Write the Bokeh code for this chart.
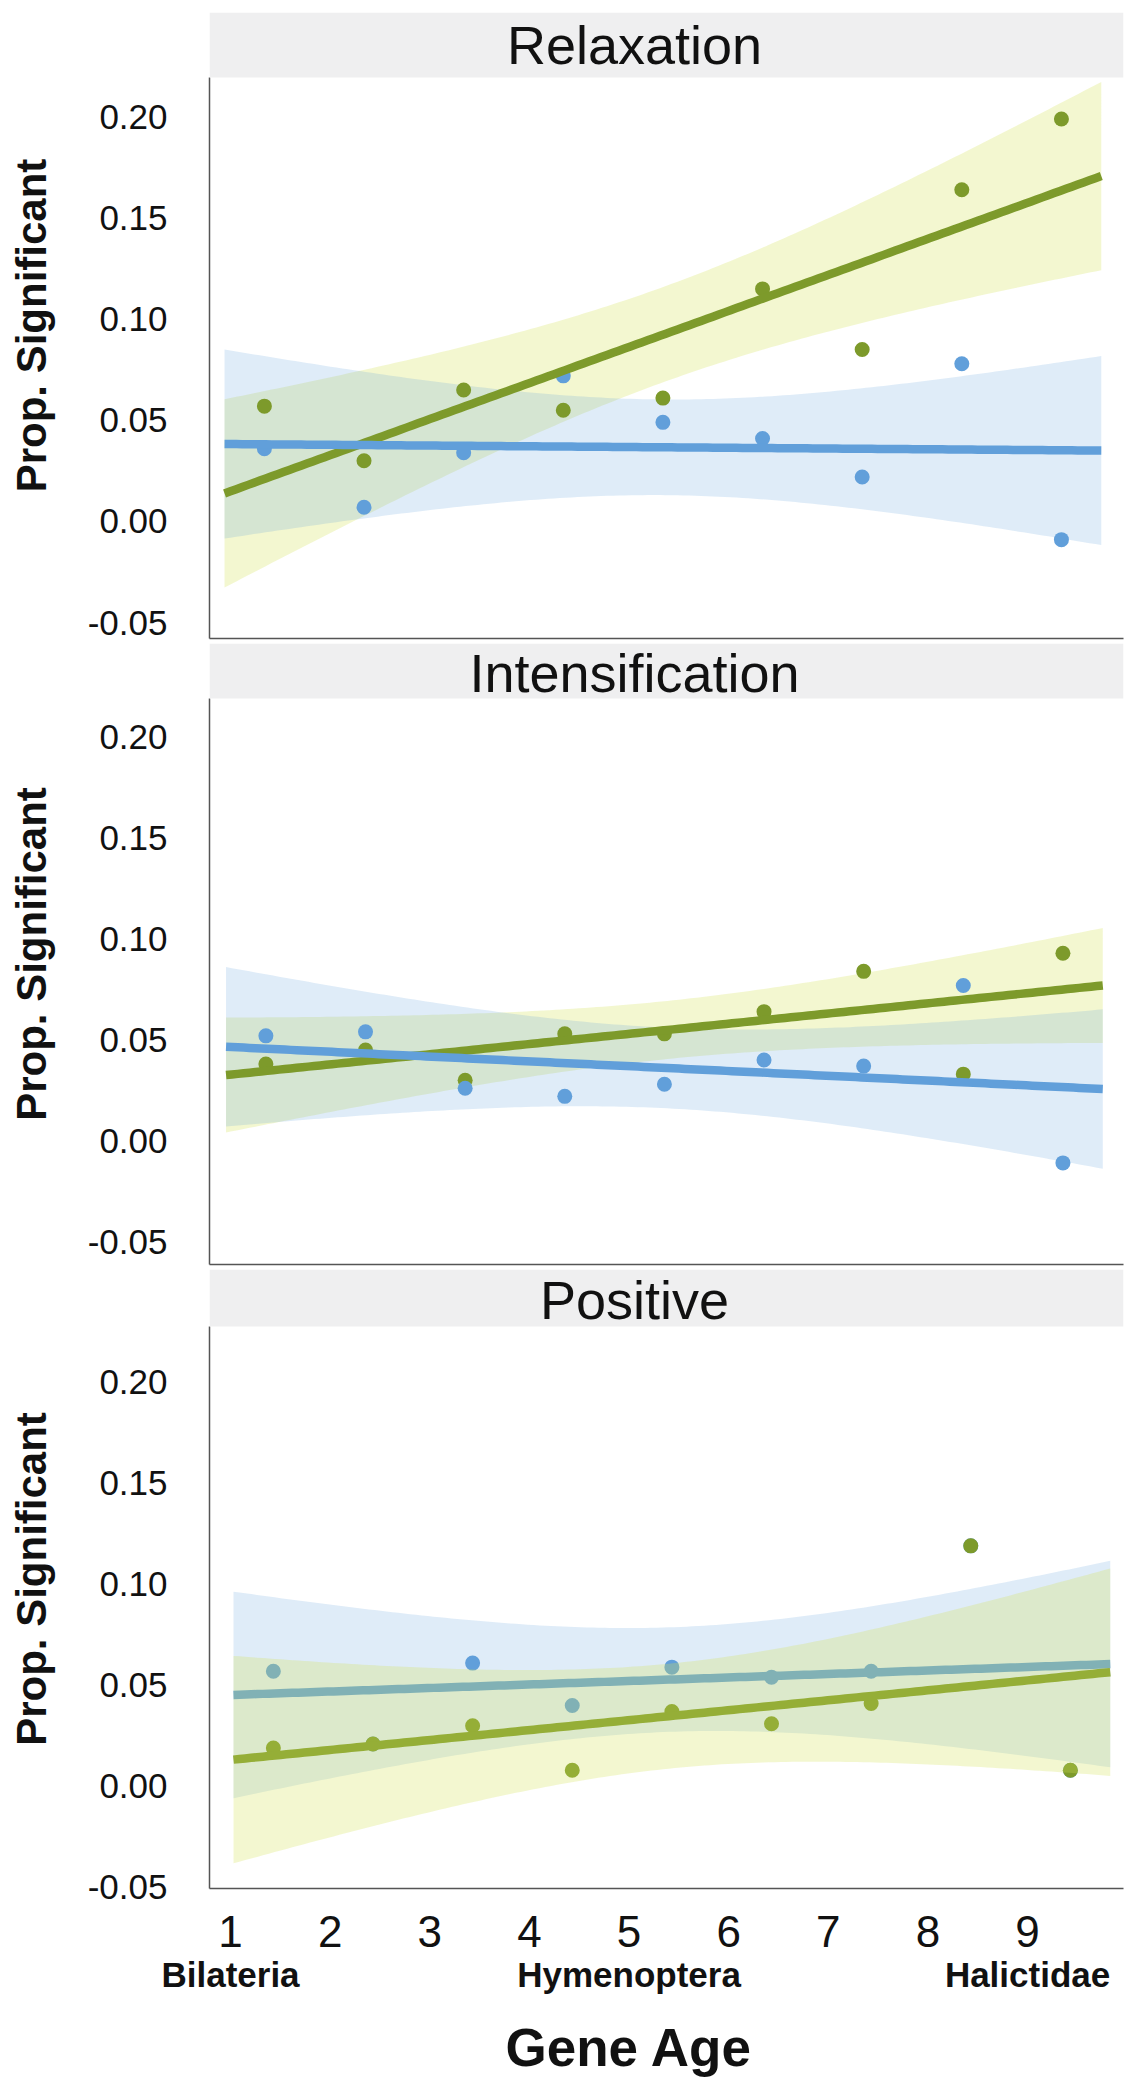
import numpy as np
from bokeh.plotting import figure
from bokeh.models import (Range1d, FixedTicker, LinearAxis, Label, Title,
                          NumeralTickFormatter, ColumnDataSource, BoxAnnotation)
from bokeh.layouts import column
from bokeh.transform import dodge
from bokeh.embed import file_html
from bokeh.resources import INLINE

# ---------------- data ----------------
gene_age = [1, 2, 3, 4, 5, 6, 7, 8, 9]
clade_ticks = [1, 5, 9]
clade_labels = ["Bilateria", "Hymenoptera", "Halictidae"]
y_ticks = [-0.05, 0.0, 0.05, 0.10, 0.15, 0.20]
panel_titles = ["Relaxation", "Intensification", "Positive"]
y_label = "Prop. Significant"
x_label = "Gene Age"

relax_green = [0.057, 0.030, 0.065, 0.055, 0.061, 0.115, 0.085, 0.164, 0.199]
relax_blue = [0.036, 0.007, 0.034, 0.072, 0.049, 0.041, 0.022, 0.078, -0.009]
intens_green = [0.038, 0.045, 0.030, 0.053, 0.053, 0.064, 0.084, 0.033, 0.093]
intens_blue = [0.052, 0.054, 0.026, 0.022, 0.028, 0.040, 0.037, 0.077, -0.011]
pos_green = [0.019, 0.021, 0.030, 0.008, 0.037, 0.031, 0.041, 0.119, 0.008]
pos_blue = [0.057, 0.021, 0.061, 0.040, 0.059, 0.054, 0.057, 0.119, 0.008]

# ---------------- style ----------------
GREEN = "#7D9A2B"
GREEN_BAND = "#D4E157"
BLUE = "#619FDA"
BLUE_BAND = "#619FDA"
STRIP = "#EFEFF0"
AXIS = "#555555"
TXT = "#111111"
FONT = "Liberation Sans"
T975_DF7 = 2.365  # Student t quantile (0.975, df = n - 2 = 7)

X0, X1 = 0.789, 9.963
LEFT = 209
FRAME_W = 914
TITLE_X = 5.055


def fit_band(x, y):
    x = np.asarray(x, float)
    y = np.asarray(y, float)
    slope, icpt = np.polyfit(x, y, 1)
    span = x.max() - x.min()
    grid = np.linspace(x.min() - 0.05 * span, x.max() + 0.05 * span, 150)
    yhat = icpt + slope * grid
    resid = y - (icpt + slope * x)
    s = np.sqrt((resid ** 2).sum() / (len(x) - 2))
    sxx = ((x - x.mean()) ** 2).sum()
    half = T975_DF7 * s * np.sqrt(1.0 / len(x) + (grid - x.mean()) ** 2 / sxx)
    return dict(x=grid, y=yhat, lo=yhat - half, hi=yhat + half)


def panel(title, green, blue, ylo, yhi, ytop, title_y, off, order,
          height, mbt, mbb, bottom=False):
    p = figure(width=LEFT + FRAME_W + 8, height=height,
               x_range=Range1d(X0, X1), y_range=Range1d(ylo, ytop),
               toolbar_location=None, output_backend="svg",
               min_border_left=LEFT, min_border_right=8,
               min_border_top=mbt, min_border_bottom=mbb)
    p.grid.visible = False
    p.outline_line_color = None
    p.border_fill_color = "white"
    p.background_fill_color = "white"

    src = {"green": ColumnDataSource(dict(x=gene_age, y=green)),
           "blue": ColumnDataSource(dict(x=gene_age, y=blue))}
    fits = {"green": ColumnDataSource(fit_band(gene_age, green)),
            "blue": ColumnDataSource(fit_band(gene_age, blue))}
    col = {"green": GREEN, "blue": BLUE}
    band = {"green": (GREEN_BAND, 0.28), "blue": (BLUE_BAND, 0.2)}
    xd = dodge("x", off)
    for series, kind in order:
        if kind == "band":
            p.varea(x=xd, y1="lo", y2="hi", source=fits[series],
                    fill_color=band[series][0], fill_alpha=band[series][1])
        elif kind == "line":
            p.line(x=xd, y="y", source=fits[series], line_color=col[series],
                   line_width=8.5)
        else:
            p.scatter(x=xd, y="y", source=src[series], size=15,
                      fill_color=col[series], line_color=None)

    # facet strip
    p.add_layout(BoxAnnotation(bottom=yhi, fill_color=STRIP, fill_alpha=1.0,
                               line_color=None))
    p.add_layout(Label(x=TITLE_X, y=title_y, text=title, text_align="center",
                       text_baseline="alphabetic", text_font=FONT,
                       text_font_size="54px", text_color=TXT))

    yax = p.yaxis[0]
    yax.bounds = (ylo, yhi)
    yax.ticker = FixedTicker(ticks=y_ticks)
    yax.formatter = NumeralTickFormatter(format="0.00")
    yax.major_tick_out = 0
    yax.major_tick_in = 0
    yax.minor_tick_line_color = None
    yax.axis_line_color = AXIS
    yax.axis_line_width = 1.5
    yax.major_label_standoff = 42
    yax.major_label_text_font = FONT
    yax.major_label_text_font_size = "35px"
    yax.major_label_text_color = TXT
    yax.axis_label = y_label
    yax.axis_label_text_font = FONT
    yax.axis_label_text_font_style = "bold"
    yax.axis_label_text_font_size = "42px"
    yax.axis_label_text_color = TXT
    yax.axis_label_standoff = 30

    xax = p.xaxis[0]
    xax.axis_line_color = AXIS
    xax.axis_line_width = 1.5
    xax.major_tick_out = 0
    xax.major_tick_in = 0
    xax.minor_tick_line_color = None
    if not bottom:
        xax.ticker = FixedTicker(ticks=[])
        xax.major_label_standoff = 0
    else:
        xax.ticker = FixedTicker(ticks=gene_age)
        xax.major_label_standoff = 27
        xax.major_label_text_font = FONT
        xax.major_label_text_font_size = "44px"
        xax.major_label_text_color = TXT
        clade = LinearAxis(ticker=FixedTicker(ticks=clade_ticks),
                           major_label_overrides=dict(zip(clade_ticks, clade_labels)),
                           axis_line_color=None, major_tick_line_color=None,
                           minor_tick_line_color=None, major_tick_out=0,
                           major_label_standoff=5,
                           major_label_text_font=FONT,
                           major_label_text_font_style="bold",
                           major_label_text_font_size="35px",
                           major_label_text_color=TXT)
        p.add_layout(clade, "below")
        p.add_layout(Title(text=x_label, align="left", offset=296,
                           text_font=FONT, text_font_style="bold",
                           text_font_size="53px", text_color=TXT,
                           standoff=39), "below")
    return p


p1 = panel(panel_titles[0], relax_green, relax_blue, -0.0579, 0.2195, 0.2517,
           0.2358, 0.34,
           [("green", "band"), ("blue", "band"), ("green", "points"),
            ("blue", "points"), ("green", "line"), ("blue", "line")],
           643, 12, 5)
p2 = panel(panel_titles[1], intens_green, intens_blue, -0.0614, 0.2193, 0.2466,
           0.2322, 0.355,
           [("green", "band"), ("blue", "band"), ("green", "points"),
            ("blue", "points"), ("green", "line"), ("blue", "line")],
           626, 0, 5)
p3 = panel(panel_titles[2], pos_green, pos_blue, -0.0505, 0.2275, 0.2557,
           0.2404, 0.43,
           [("blue", "band"), ("blue", "points"), ("blue", "line"),
            ("green", "points"), ("green", "line"), ("green", "band")],
           831, 0, 212, bottom=True)

layout = column(p1, p2, p3, spacing=0)
open("out.html", "w").write(file_html(layout, INLINE))
